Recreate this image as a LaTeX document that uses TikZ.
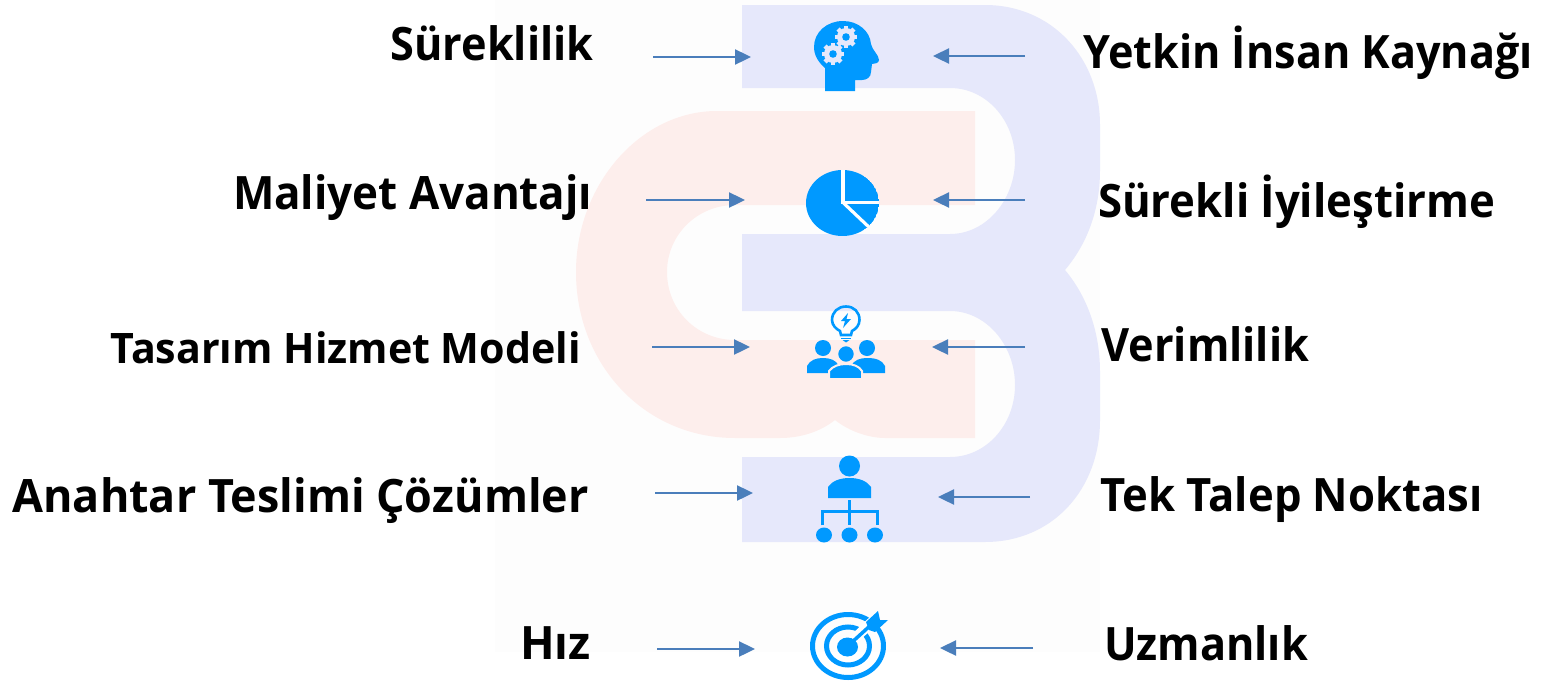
\documentclass[tikz,border=0pt]{standalone}
\usepackage{fontspec}
\setmainfont{Open Sans}
\usetikzlibrary{arrows.meta}
\definecolor{iconblue}{HTML}{0099FF}
\definecolor{arrowblue}{HTML}{4A7EBB}
\definecolor{logoblue}{HTML}{E6E8FB}
\definecolor{logored}{HTML}{FDEEEC}
\definecolor{faintbg}{HTML}{FDFDFD}
\tikzset{
  lab/.style={inner sep=0pt,outer sep=0pt,anchor=base west,font=\fontsize{46}{46}\bfseries,text=black,transform shape},
  conn/.style={draw=arrowblue,line width=2.4pt,-{Triangle[length=16pt,width=15pt,fill=arrowblue]}},
  ico/.style={fill=iconblue,draw=none},
  icoline/.style={draw=iconblue,fill=none}
}
\newcommand{\gearicon}[2]{%
  \fill[logoblue] (#1,#2) circle[radius=9];
  \foreach \a in {0,45,...,315}{\fill[logoblue,shift={(#1,#2)},rotate=\a] (-2.2,6) rectangle (2.2,11.3);}
  \fill[iconblue] (#1,#2) circle[radius=3.8];}
\begin{document}
\begin{tikzpicture}[x=1pt,y=-1pt]
\useasboundingbox (0,0) rectangle (1543,683);
\fill[white] (0,0) rectangle (1543,683);
\fill[faintbg] (495,0) rectangle (1100,652);
% logo
\fill[logored] (975,111) -- (717,111) .. controls (640,111) and (576,185) .. (576,272)
  .. controls (576,365) and (645,438) .. (735,438) -- (780,438)
  .. controls (800,438) and (820,432) .. (835,420) .. controls (850,432) and (870,438) .. (885,438)
  -- (975,438) -- (975,340) -- (735,340) .. controls (697,340) and (667,310) .. (667,272)
  .. controls (667,235) and (697,205) .. (735,205) -- (975,205) -- cycle;
\fill[logoblue] (742,5) -- (985,5) .. controls (1052,5) and (1100,58) .. (1100,125)
  -- (1100,170) .. controls (1100,212) and (1086,245) .. (1065,270)
  .. controls (1086,295) and (1100,330) .. (1100,372) -- (1100,420)
  .. controls (1100,490) and (1052,542) .. (985,542) -- (742,542) -- (742,457) -- (950,457)
  .. controls (986,457) and (1015,425) .. (1015,385) .. controls (1015,345) and (986,311) .. (950,311)
  -- (742,311) -- (742,234) -- (950,234) .. controls (986,234) and (1015,200) .. (1015,160)
  .. controls (1015,120) and (986,88) .. (950,88) -- (742,88) -- cycle;
% labels
\node[lab,xscale=.94] (l1) at (390.5,60) {Süreklilik};
\node[lab,xscale=.938] (r1) at (1083.5,68) {Yetkin İnsan Kaynağı};
\node[lab,xscale=.955] (l2) at (233,209) {Maliyet Avantajı};
\node[lab,xscale=.95] (r2) at (1098,217) {Sürekli İyileştirme};
\node[lab,font=\fontsize{42}{42}\bfseries,xscale=.98] (l3) at (110.5,363) {Tasarım Hizmet Modeli};
\node[lab,xscale=.94] (r3) at (1101.5,361) {Verimlilik};
\node[lab,xscale=.975] (l4) at (12.5,512) {Anahtar Teslimi Çözümler};
\node[lab,xscale=.948] (r4) at (1100.5,511) {Tek Talep Noktası};
\node[lab,xscale=.985] (l5) at (520,659) {Hız};
\node[lab,xscale=.94] (r5) at (1104,660) {Uzmanlık};
% connectors
\coordinate (al1) at (653,57); \coordinate (bl1) at (751,57);
\coordinate (ar1) at (1025,56); \coordinate (br1) at (933,56);
\coordinate (al2) at (646,200); \coordinate (bl2) at (745,200);
\coordinate (ar2) at (1025,200); \coordinate (br2) at (933,200);
\coordinate (al3) at (652,347); \coordinate (bl3) at (750,347);
\coordinate (ar3) at (1025,347); \coordinate (br3) at (932,347);
\coordinate (al4) at (655,493); \coordinate (bl4) at (753,493);
\coordinate (ar4) at (1030,497); \coordinate (br4) at (938,497);
\coordinate (al5) at (657,649); \coordinate (bl5) at (755,649);
\coordinate (ar5) at (1033,648); \coordinate (br5) at (940,648);
\foreach \n in {l1,r1,l2,r2,l3,r3,l4,r4,l5,r5}{\draw[conn] (a\n) -- (b\n);}
% head icon
\fill[ico] (825,91) -- (825,68) .. controls (818,62) and (814,55) .. (814,47)
  .. controls (814,32) and (827,21) .. (843,21) .. controls (858,21) and (870,31) .. (871,44)
  .. controls (872,50) and (879,55) .. (879,60) .. controls (879,63) and (875,64) .. (872,64)
  -- (871,72) .. controls (871,77) and (867,80) .. (862,80) -- (855,80) -- (855,91) -- cycle;
\gearicon{846}{37}
\gearicon{833}{54}
% pie icon
\begin{scope}
\clip (842.5,203) ellipse[x radius=36.5,y radius=33];
\fill[ico] (842.5,203) ellipse[x radius=36.5,y radius=33];
\draw[white,line width=3.2pt] (843,165) -- (843,202.5) -- (885,202.5);
\draw[white,line width=3.2pt] (843,202.5) -- (872,230);
\end{scope}
% bulb and people icon
\draw[icoline,line width=2.6pt] (840,331) .. controls (836,329) and (832,325) .. (832,320)
  .. controls (832,312) and (838,306.5) .. (846,306.5) .. controls (854,306.5) and (859.5,312) .. (859.5,320)
  .. controls (859.5,325) and (856,329) .. (852,331) -- (851,335) -- (841,335) -- cycle;
\fill[ico] (848,313) -- (841,321) -- (845,321) -- (843,328) -- (851,319) -- (846.5,319) -- cycle;
\fill[ico] (841,337.5) rectangle (851,339);
\fill[ico] (842.5,340) -- (849.5,340) -- (846,342.5) -- cycle;
\fill[ico] (823,348) circle[radius=8];
\fill[ico] (867,348) circle[radius=8];
\fill[ico] (807,373) -- (807,366) .. controls (810,360) and (816,358) .. (823,358)
  .. controls (830,358) and (836,360) .. (839,366) -- (839,373) -- cycle;
\fill[ico] (885,373) -- (885,366) .. controls (882,360) and (876,358) .. (867,358)
  .. controls (860,358) and (854,360) .. (851,366) -- (851,373) -- cycle;
\draw[logored,fill=iconblue,line width=2pt] (846,354) circle[radius=8.8];
\draw[logored,fill=iconblue,line width=2pt] (829,379) -- (829,371) .. controls (833,366) and (839,364) .. (846,364)
  .. controls (853,364) and (859,366) .. (862,371) -- (862,379) -- cycle;
% organisation icon
\fill[ico] (849.5,466) circle[radius=10.5];
\fill[ico] (828,498) -- (828,487) .. controls (832,481) and (840,478) .. (849.5,478)
  .. controls (859,478) and (867,481) .. (871,487) -- (871,498) -- cycle;
\draw[icoline,line width=3pt] (849.5,500) -- (849.5,525);
\draw[icoline,line width=3pt] (822,525) -- (822,511) -- (877,511) -- (877,525);
\fill[ico] (824,535) ellipse[x radius=8,y radius=7.5];
\fill[ico] (849.5,535) ellipse[x radius=8,y radius=7.5];
\fill[ico] (875,535) ellipse[x radius=8,y radius=7.5];
% target icon
\draw[icoline,line width=5pt] (848,646) ellipse[x radius=35.5,y radius=31.5];
\draw[icoline,line width=5pt] (848,646) ellipse[x radius=21.5,y radius=19];
\draw[white,line width=10pt] (852,641) -- (876,618);
\fill[ico] (847.5,647) ellipse[x radius=10.5,y radius=9.5];
\draw[icoline,line width=3.5pt] (850,644) -- (872,624);
\fill[ico] (866,622) -- (878,611) -- (880,620) -- (888,620) -- (875,632) -- (869,630) -- cycle;
\end{tikzpicture}
\end{document}
